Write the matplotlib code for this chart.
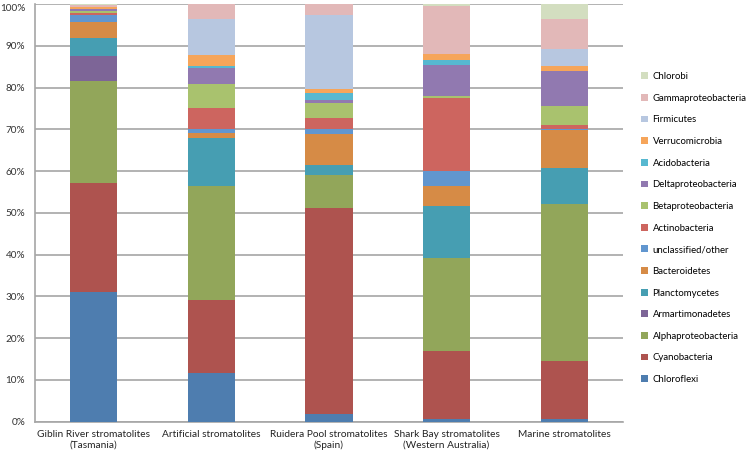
import matplotlib
matplotlib.use("Agg")
import matplotlib.pyplot as plt
import matplotlib.transforms as mtransforms
import numpy as np
from matplotlib.ticker import PercentFormatter

categories = ["Giblin River stromatolites\n(Tasmania)", "Artificial stromatolites",
              "Ruidera Pool stromatolites\n(Spain)", "Shark Bay stromatolites\n(Western Australia)",
              "Marine stromatolites"]

series_names = ["Chloroflexi", "Cyanobacteria", "Alphaproteobacteria", "Armartimonadetes",
                "Planctomycetes", "Bacteroidetes", "unclassified/other", "Actinobacteria",
                "Betaproteobacteria", "Deltaproteobacteria", "Acidobacteria", "Verrucomicrobia",
                "Firmicutes", "Gammaproteobacteria", "Chlorobi"]

chloroflexi = [31.0, 11.6, 1.9, 0.6, 0.6]
cyanobacteria = [26.2, 17.5, 49.3, 16.3, 14.0]
alphaproteobacteria = [24.4, 27.4, 7.8, 22.2, 37.5]
armartimonadetes = [5.9, 0.0, 0.0, 0.0, 0.0]
planctomycetes = [4.4, 11.4, 2.5, 12.5, 8.7]
bacteroidetes = [3.8, 1.2, 7.4, 4.8, 9.0]
unclassified = [1.7, 1.0, 1.2, 3.5, 0.3]
actinobacteria = [0.5, 4.9, 2.6, 17.7, 0.9]
betaproteobacteria = [0.4, 5.8, 3.6, 0.3, 4.6]
deltaproteobacteria = [0.4, 3.9, 0.7, 7.5, 8.4]
acidobacteria = [0.2, 0.5, 1.8, 1.3, 0.0]
verrucomicrobia = [0.3, 2.5, 0.8, 1.3, 1.2]
firmicutes = [0.2, 8.7, 17.8, 0.0, 4.0]
gammaproteobacteria = [0.3, 3.6, 2.6, 11.6, 7.2]
chlorobi = [0.3, 0.0, 0.0, 0.4, 3.6]

values = [chloroflexi, cyanobacteria, alphaproteobacteria, armartimonadetes, planctomycetes,
          bacteroidetes, unclassified, actinobacteria, betaproteobacteria, deltaproteobacteria,
          acidobacteria, verrucomicrobia, firmicutes, gammaproteobacteria, chlorobi]

colors = ["#4E7DAF", "#AE534F", "#92A65A", "#7D6597", "#469EB2", "#D68B46", "#6196CF",
          "#CD655F", "#A9C26E", "#9179B0", "#57B8D0", "#F6A55A", "#B7C7E0", "#E2B8B8", "#D3DEC0"]

plt.rcParams['font.family'] = ['Lato', 'DejaVu Sans']

fig = plt.figure(figsize=(7.5, 4.55), dpi=100)
ax = fig.add_axes([35/750, 1-421.7/455, (623-35)/750, (421.7-4)/455])

arr = np.array(values, dtype=float)
totals = arr.sum(axis=0)
pct = arr / totals * 100
x = np.arange(len(categories))
bottom = np.zeros(len(categories))
handles = []
for name, vals, c in zip(series_names, pct, colors):
    h = ax.bar(x, vals, bottom=bottom, width=0.4, color=c, label=name, zorder=3)
    handles.append(h)
    bottom += vals

ax.set_xlim(-0.5, len(categories) - 0.5)
ax.set_ylim(0, 100)
ax.set_yticks(np.arange(0, 101, 10))
ax.yaxis.set_major_formatter(PercentFormatter(decimals=0))
ax.grid(axis='y', color='#A6A6A6', linewidth=1.2, zorder=0)
for s in ['top', 'right']:
    ax.spines[s].set_visible(False)
for s in ['left', 'bottom']:
    ax.spines[s].set_color('#A6A6A6')
    ax.spines[s].set_linewidth(1.2)
ax.tick_params(axis='y', length=0, labelsize=7.2, colors='#333333', pad=7)
ax.tick_params(axis='x', length=0, labelsize=7.3, colors='#222222', pad=6)
ax.set_xticks(x)
ax.set_xticklabels(categories)

# nudge the top (100%) label down slightly so it stays inside the figure
top_label = ax.get_yticklabels()[-1]
top_label.set_transform(top_label.get_transform() +
                        mtransforms.ScaledTranslation(0, -3/100, fig.dpi_scale_trans))

leg = fig.legend(handles[::-1], series_names[::-1], loc='upper left',
                 bbox_to_anchor=(641/750, 1 - 72/455), frameon=False, fontsize=6.9,
                 handlelength=0.7, handleheight=0.7, handletextpad=0.5,
                 labelspacing=1.32, borderaxespad=0, borderpad=0)

fig.savefig("out.png", dpi=100)
